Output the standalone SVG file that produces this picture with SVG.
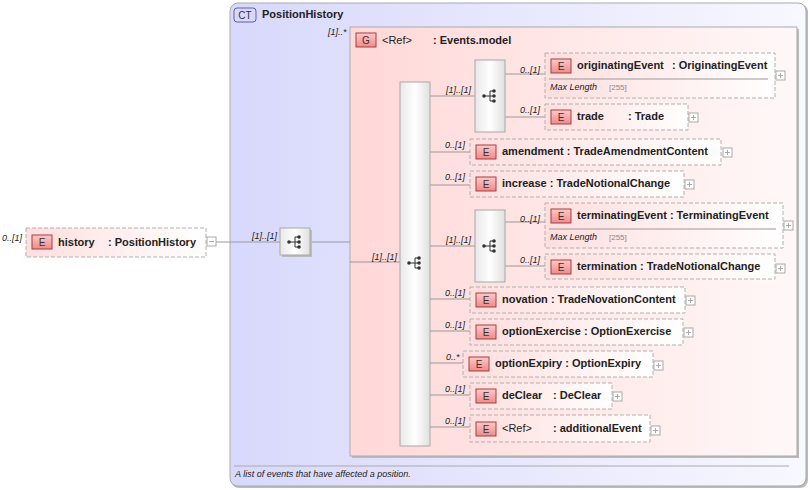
<svg xmlns="http://www.w3.org/2000/svg" width="812" height="490" viewBox="0 0 812 490">
<defs>
<linearGradient id="ct" x1="0" y1="0" x2="1" y2="0"><stop offset="0" stop-color="#d8d8fc"/><stop offset="1" stop-color="#f8f8ff"/></linearGradient>
<linearGradient id="gr" x1="0" y1="0" x2="1" y2="0"><stop offset="0" stop-color="#ffd8d8"/><stop offset="1" stop-color="#fff8f8"/></linearGradient>
<linearGradient id="el" x1="0" y1="0" x2="1" y2="0"><stop offset="0" stop-color="#ffdede"/><stop offset="1" stop-color="#ffffff"/></linearGradient>
<linearGradient id="sq" x1="0" y1="0" x2="1" y2="0"><stop offset="0" stop-color="#e8e8e8"/><stop offset="0.5" stop-color="#ffffff"/><stop offset="1" stop-color="#e0e0e0"/></linearGradient>
<linearGradient id="badge" x1="0" y1="0" x2="0" y2="1"><stop offset="0" stop-color="#ffc8c8"/><stop offset="1" stop-color="#f08a8a"/></linearGradient>
<g id="seqicon"><circle cx="-6" cy="0" r="1.8" fill="#333"/><path d="M-6 0H0M0-5V5M0-5H4M0 0H4M0 5H4" stroke="#333" fill="none"/><circle cx="4" cy="-5" r="1.8" fill="#333"/><circle cx="4" cy="0" r="1.8" fill="#333"/><circle cx="4" cy="5" r="1.8" fill="#333"/></g>
<g id="plus"><rect x="0" y="0" width="9" height="9" fill="#fff" stroke="#aaa"/><path d="M2 4.5H7M4.5 2V7" stroke="#aaa"/></g>
</defs>
<style>
.t{font-family:"Liberation Sans",Arial,sans-serif;font-size:11px;font-weight:bold;fill:#222}
.m{font-family:"Liberation Sans",Arial,sans-serif;font-size:9px;font-style:italic;fill:#222}
.d{font-family:"Liberation Sans",Arial,sans-serif;font-size:9px;font-style:italic;fill:#222}
.g{font-family:"Liberation Sans",Arial,sans-serif;font-size:8px;fill:#888}
.el{fill:url(#el);stroke:#b0b0b0;stroke-dasharray:4,2}
.bd{fill:url(#badge);stroke:#a04040}
.bt{font-family:"Liberation Sans",Arial,sans-serif;font-size:10px;fill:#333;text-anchor:middle}
.sq{fill:url(#sq);stroke:#a8a8a8}
.c{stroke:#999;fill:none}
</style>
<g id="ct">
<rect x="231" y="4" width="577" height="484" rx="8" fill="#bbb"/>
<rect x="230" y="3" width="576" height="483" rx="8" fill="url(#ct)" stroke="#aaa"/>
<rect x="234" y="8" width="22" height="14" rx="3" fill="#d8d8ff" stroke="#6060a0"/>
<text x="245" y="19" class="bt">CT</text>
<text x="262" y="18" class="t">PositionHistory</text>
<line x1="234" y1="466" x2="789" y2="466" stroke="#aaa"/>
<text x="235" y="477" class="d">A list of events that have affected a position.</text>
</g>
<g id="group">
<rect x="352" y="29" width="447" height="429" fill="#bbb"/>
<rect x="350" y="27" width="447" height="429" fill="url(#gr)" stroke="#aaa"/>
<rect x="356" y="33" width="20" height="14" class="bd"/>
<text x="366" y="44" class="bt">G</text>
<text x="382" y="44" class="t" font-weight="normal" style="font-weight:normal">&lt;Ref&gt;</text>
<text x="433" y="44" class="t">: Events.model</text>
<text x="328" y="35" class="m">[1]..*</text>
</g>
<g id="connectors">
<path class="c" d="M216 242H280M310 242H350M350 262H400M430 96H475M505 74H545M505 117H545M430 152H470M430 185H470M430 246H475M505 222H545M505 266H545M430 299H470M430 331H470M430 363H463M430 395H470M430 427H470"/>
</g>
<g id="history">
<rect x="26" y="228" width="180" height="29" class="el"/>
<rect x="32" y="235" width="20" height="14" class="bd"/><text x="42" y="246" class="bt">E</text>
<text x="58" y="246" class="t">history</text><text x="108" y="246" class="t">: PositionHistory</text>
<rect x="207" y="237" width="9" height="9" fill="#fff" stroke="#aaa"/><path d="M209 241.5H214" stroke="#aaa"/>
<text x="2" y="241" class="m">0..[1]</text>
</g>
<g id="seq0">
<rect x="282" y="230" width="30" height="27" fill="#bbb"/>
<rect x="280" y="228" width="30" height="27" class="sq"/>
<use href="#seqicon" x="295" y="242"/>
<text x="252" y="239" class="m">[1]..[1]</text>
</g>
<g id="seqMain">
<rect x="400" y="82" width="30" height="364" class="sq"/>
<use href="#seqicon" x="415" y="263"/>
<text x="372" y="260" class="m">[1]..[1]</text>
</g>
<g id="seq1">
<rect x="475" y="60" width="30" height="72" class="sq"/>
<use href="#seqicon" x="490" y="96"/>
<text x="446" y="93" class="m">[1]..[1]</text>
</g>
<g id="originatingEvent">
<rect x="545" y="53" width="230" height="45" class="el"/>
<rect x="551" y="59" width="20" height="14" class="bd"/><text x="561" y="70" class="bt">E</text>
<text x="577" y="69" class="t">originatingEvent</text><text x="672" y="69" class="t">: OriginatingEvent</text>
<line x1="549" y1="79" x2="768" y2="79" stroke="#999"/>
<text x="550" y="90" class="m" font-size="8">Max Length</text><text x="609" y="90" class="g">[255]</text>
<use href="#plus" x="776" y="71"/>
<text x="520" y="73" class="m">0..[1]</text>
</g>
<g id="trade">
<rect x="545" y="104" width="143" height="26" class="el"/>
<rect x="551" y="110" width="20" height="14" class="bd"/><text x="561" y="121" class="bt">E</text>
<text x="577" y="120" class="t">trade</text><text x="628" y="120" class="t">: Trade</text>
<use href="#plus" x="689" y="113"/>
<text x="520" y="113" class="m">0..[1]</text>
</g>
<g id="amendment">
<rect x="470" y="139" width="251" height="26" class="el"/>
<rect x="476" y="145" width="20" height="14" class="bd"/><text x="486" y="156" class="bt">E</text>
<text x="502" y="155" class="t">amendment : TradeAmendmentContent</text>
<use href="#plus" x="723" y="148"/>
<text x="445" y="148" class="m">0..[1]</text>
</g>
<g id="increase">
<rect x="470" y="171" width="214" height="26" class="el"/>
<rect x="476" y="177" width="20" height="14" class="bd"/><text x="486" y="188" class="bt">E</text>
<text x="502" y="187" class="t">increase : TradeNotionalChange</text>
<use href="#plus" x="685" y="180"/>
<text x="445" y="180" class="m">0..[1]</text>
</g>
<g id="seq2">
<rect x="475" y="210" width="30" height="72" class="sq"/>
<use href="#seqicon" x="490" y="246"/>
<text x="446" y="243" class="m">[1]..[1]</text>
</g>
<g id="terminatingEvent">
<rect x="545" y="203" width="238" height="45" class="el"/>
<rect x="551" y="209" width="20" height="14" class="bd"/><text x="561" y="220" class="bt">E</text>
<text x="577" y="219" class="t">terminatingEvent : TerminatingEvent</text>
<line x1="549" y1="229" x2="776" y2="229" stroke="#999"/>
<text x="550" y="240" class="m" font-size="8">Max Length</text><text x="609" y="240" class="g">[255]</text>
<use href="#plus" x="784" y="221"/>
<text x="520" y="222" class="m">0..[1]</text>
</g>
<g id="termination">
<rect x="545" y="254" width="230" height="25" class="el"/>
<rect x="551" y="260" width="20" height="14" class="bd"/><text x="561" y="271" class="bt">E</text>
<text x="577" y="270" class="t">termination : TradeNotionalChange</text>
<use href="#plus" x="776" y="264"/>
<text x="520" y="263" class="m">0..[1]</text>
</g>
<g id="novation">
<rect x="470" y="287" width="215" height="26" class="el"/>
<rect x="476" y="293" width="20" height="14" class="bd"/><text x="486" y="304" class="bt">E</text>
<text x="502" y="303" class="t">novation : TradeNovationContent</text>
<use href="#plus" x="686" y="296"/>
<text x="445" y="296" class="m">0..[1]</text>
</g>
<g id="optionExercise">
<rect x="470" y="319" width="213" height="26" class="el"/>
<rect x="476" y="325" width="20" height="14" class="bd"/><text x="486" y="336" class="bt">E</text>
<text x="502" y="335" class="t">optionExercise : OptionExercise</text>
<use href="#plus" x="684" y="328"/>
<text x="445" y="328" class="m">0..[1]</text>
</g>
<g id="optionExpiry">
<rect x="463" y="351" width="190" height="26" class="el"/>
<rect x="469" y="357" width="20" height="14" class="bd"/><text x="479" y="368" class="bt">E</text>
<text x="495" y="367" class="t">optionExpiry : OptionExpiry</text>
<use href="#plus" x="654" y="361"/>
<text x="446" y="360" class="m">0..*</text>
</g>
<g id="deClear">
<rect x="470" y="383" width="142" height="26" class="el"/>
<rect x="476" y="389" width="20" height="14" class="bd"/><text x="486" y="400" class="bt">E</text>
<text x="502" y="399" class="t">deClear</text><text x="553" y="399" class="t">: DeClear</text>
<use href="#plus" x="613" y="392"/>
<text x="445" y="392" class="m">0..[1]</text>
</g>
<g id="additionalEvent">
<rect x="470" y="415" width="180" height="27" class="el"/>
<rect x="476" y="422" width="20" height="14" class="bd"/><text x="486" y="433" class="bt">E</text>
<text x="502" y="432" style="font-family:'Liberation Sans',Arial,sans-serif;font-size:11px;fill:#222">&lt;Ref&gt;</text><text x="553" y="432" class="t">: additionalEvent</text>
<use href="#plus" x="651" y="426"/>
<text x="445" y="424" class="m">0..[1]</text>
</g>
</svg>
